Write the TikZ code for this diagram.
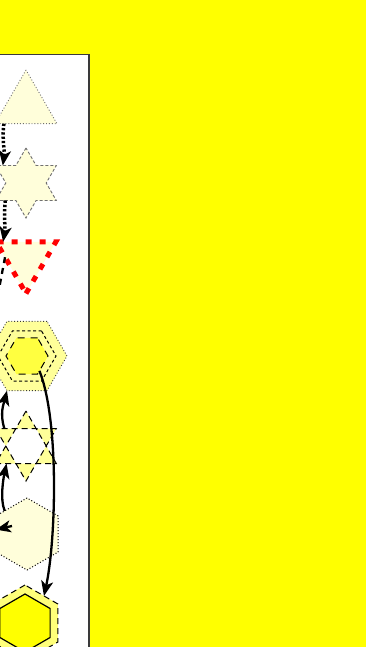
\documentclass[tikz,border=0pt]{standalone}
\usepackage{tikz}
\usetikzlibrary{arrows.meta, shapes.geometric}
\definecolor{bgyellow}{HTML}{FFFF00}
\definecolor{paleyellow}{HTML}{FFFEDA}
\definecolor{softyellow}{HTML}{FFFF99}
\definecolor{deepyellow}{HTML}{FFFF40}
\definecolor{framegray}{HTML}{3A3A3A}
\definecolor{rimgray}{HTML}{707070}

\begin{document}
\begin{tikzpicture}[
        x=1pt, y=-1pt,
        every node/.style={inner sep=0pt, outer sep=0pt},
        poly/.style={regular polygon, regular polygon sides=#1},
        hexup/.style={poly=6, shape border rotate=30},
        sixstar/.style={star, star points=6, star point ratio=1.732},
        link/.style={-{Stealth[length=15pt, width=12pt, inset=4pt]}, line width=2.3pt, black},
        dotlink/.style={link, dotted, line width=3.5pt},
        dashlink/.style={line width=2.3pt, black, dash pattern=on 6pt off 5pt}
    ]
        \useasboundingbox (0,0) rectangle (366,647);
        \clip (0,0) rectangle (366,647);
        \fill[bgyellow] (0,0) rectangle (366,647);
        \draw[framegray, fill=white, line width=1.2pt] (-10,54.5) rectangle (89,660);

        % --- upper column ---
        \node[poly=3, minimum size=71.6pt, draw=rimgray, dotted, line width=0.9pt,
              fill=paleyellow] (tri) at (26,105.8) {};
        \node[sixstar, minimum size=70pt, draw=rimgray, line width=0.9pt,
              dash pattern=on 3pt off 2pt, fill=paleyellow] (star) at (26,183) {};
        \node[poly=3, shape border rotate=180, minimum size=69pt, draw=red,
              line width=5pt, dash pattern=on 6pt off 8pt, fill=paleyellow]
              (invtri) at (26,259) {};

        % --- nested hexagon ---
        \node[poly=6, minimum size=80pt, draw=framegray, dotted, line width=0.9pt,
              fill=softyellow] (hexa) at (27,356) {};
        \node[poly=6, minimum size=58pt, draw=black, line width=1pt,
              dash pattern=on 3pt off 2.5pt, fill=softyellow] (hexamid) at (27,356) {};
        \node[poly=6, minimum size=42pt, draw=black, line width=1pt,
              dash pattern=on 7pt off 6pt, fill=deepyellow] (hexain) at (27,356) {};

        % --- star of david ---
        \node[sixstar, minimum size=70pt] (david) at (26,446) {};
        \fill[softyellow, even odd rule]
            (david.outer point 1) -- (david.outer point 3) -- (david.outer point 5) -- cycle
            (david.outer point 2) -- (david.outer point 4) -- (david.outer point 6) -- cycle;
        \draw[black, line width=1pt, dash pattern=on 6pt off 4pt]
            (david.outer point 1) -- (david.outer point 3) -- (david.outer point 5) -- cycle
            (david.outer point 2) -- (david.outer point 4) -- (david.outer point 6) -- cycle;

        % --- lower hexagons ---
        \node[hexup, minimum size=72pt, draw=black, dotted, line width=1pt,
              fill=paleyellow] (hexb) at (27,534) {};
        \node[hexup, minimum size=76pt, draw=black, line width=1pt,
              dash pattern=on 6pt off 4pt, fill=softyellow!80!bgyellow] (hexc) at (25,623) {};
        \node[hexup, minimum size=58pt, draw=black, line width=1.2pt,
              fill=bgyellow] (hexcin) at (25,623) {};

        % --- connectors ---
        \coordinate (offleft) at (-4,305);
        \coordinate (tipback) at (12,526);
        \draw[dotlink] (tri.-141) .. controls +(-2,14) and +(2,-14) .. (star.143);
        \draw[dotlink] (star.-140) .. controls +(-1,12) and +(2,-12) .. (invtri.143);
        \draw[dashlink] (invtri.175) -- (offleft);
        \draw[link] (david.141) .. controls +(-5,-15) and +(-3,12) .. (hexa.-120);
        \draw[link] (hexb.134) .. controls +(-5,-12) and +(-3,14) .. (david.-138);
        \draw[link] (hexain.-50) .. controls +(20,50) and +(12,-55) .. (hexc.55);
        \draw[link] (tipback) -- (hexb.172);
    \end{tikzpicture}
\end{document}
